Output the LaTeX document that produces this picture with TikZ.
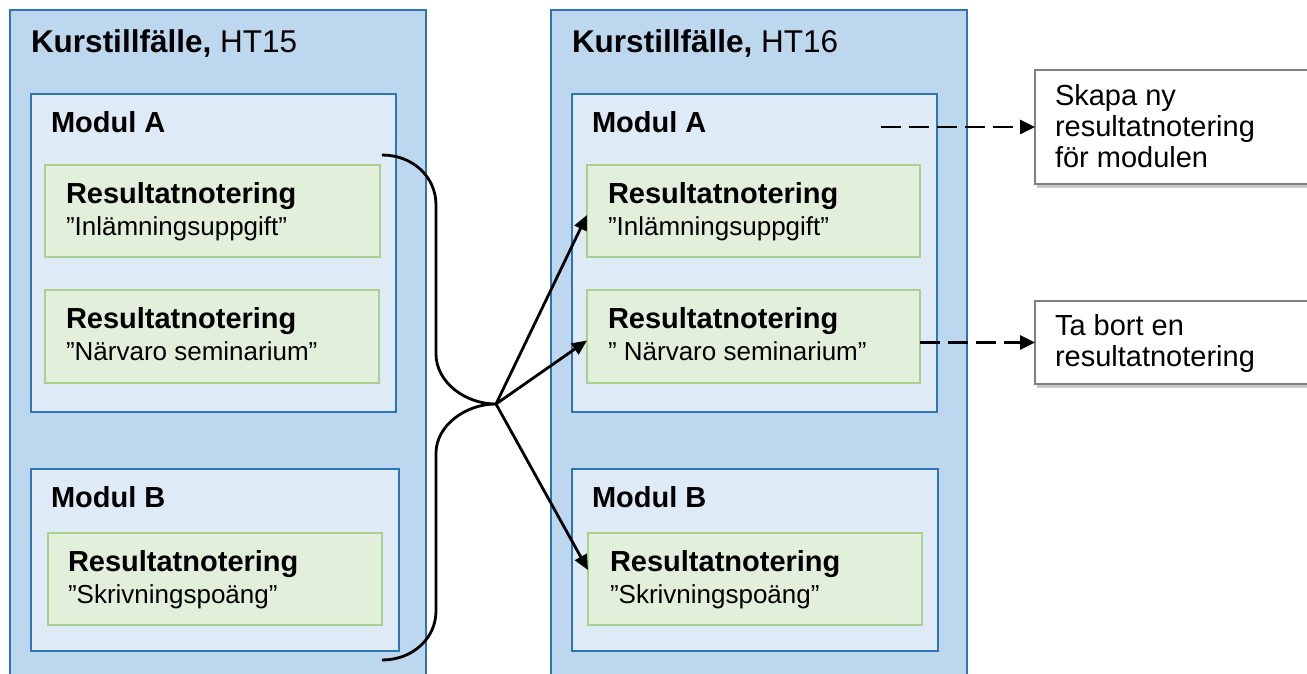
\documentclass[tikz,border=0pt]{standalone}
\usepackage{fontspec}
\setmainfont{Liberation Sans}
\usetikzlibrary{arrows.meta,shadows,calc}
\definecolor{outerfill}{HTML}{BDD7EE}
\definecolor{bluedge}{HTML}{2E75B6}
\definecolor{modfill}{HTML}{DEEBF7}
\definecolor{greenfill}{HTML}{E2EFDA}
\definecolor{greenedge}{HTML}{A9D18E}
\definecolor{noteedge}{HTML}{808080}
\newcommand{\ftitle}{\fontsize{31.5}{34}\selectfont}
\newcommand{\fhead}{\fontsize{29}{32}\selectfont}
\newcommand{\fsub}{\fontsize{26}{30}\selectfont}
\newcommand{\fnote}{\fontsize{29}{31}\selectfont}
\tikzset{
  boxbase/.style={rectangle, anchor=north west, inner sep=0pt, outer sep=0pt},
  outerbox/.style={boxbase, fill=outerfill, draw=bluedge, line width=2pt},
  modbox/.style={boxbase, fill=modfill, draw=bluedge, line width=2pt},
  resbox/.style={boxbase, fill=greenfill, draw=greenedge, line width=2pt},
  notebox/.style={boxbase, fill=white, draw=noteedge, line width=1.5pt,
    drop shadow={shadow xshift=2pt, shadow yshift=-4pt, fill=black, opacity=0.22}},
  txt/.style={anchor=base west, inner sep=0pt, outer sep=0pt},
  conn/.style={draw=black, line width=2.8pt},
  arr/.style={conn, -{Triangle[length=15pt, width=13pt]}},
  dasharr/.style={draw=black, line width=2.8pt, dash pattern=on 20pt off 8pt,
    -{Triangle[length=15pt, width=14pt]}}
}
\begin{document}
\begin{tikzpicture}[x=1pt, y=-1pt]
\useasboundingbox (0,0) rectangle (1307,673);
\clip (0,0) rectangle (1307,673);
% outer course boxes
\node[outerbox, minimum width=416pt, minimum height=700pt] (k1) at (10,10) {};
\node[outerbox, minimum width=416pt, minimum height=700pt] (k2) at (551,10) {};
% modules
\node[modbox, minimum width=365pt, minimum height=318pt] (ma1) at (31,94) {};
\node[modbox, minimum width=368pt, minimum height=182pt] (mb1) at (31,469) {};
\node[modbox, minimum width=365pt, minimum height=318pt] (ma2) at (572,94) {};
\node[modbox, minimum width=366pt, minimum height=182pt] (mb2) at (572,469) {};
% result boxes
\node[resbox, minimum width=335pt, minimum height=92pt] (r1a) at (45,165) {};
\node[resbox, minimum width=334pt, minimum height=93pt] (r1b) at (45,290) {};
\node[resbox, minimum width=334pt, minimum height=92pt] (r1c) at (48,533) {};
\node[resbox, minimum width=333pt, minimum height=92pt] (r2a) at (587,165) {};
\node[resbox, minimum width=333pt, minimum height=93pt] (r2b) at (587,290) {};
\node[resbox, minimum width=334pt, minimum height=92pt] (r2c) at (588,533) {};
% texts
\node[txt] (tk1) at (31,52) {\ftitle\textbf{Kurstillfälle,} HT15};
\node[txt] (tk2) at (572,52) {\ftitle\textbf{Kurstillfälle,} HT16};
\node[txt] (tma1) at (51,132) {\fhead\textbf{Modul A}};
\node[txt] (tmb1) at (51,507) {\fhead\textbf{Modul B}};
\node[txt] (tma2) at (592,132) {\fhead\textbf{Modul A}};
\node[txt] (tmb2) at (592,507) {\fhead\textbf{Modul B}};
\node[txt] (h1a) at (66,203) {\fhead\textbf{Resultatnotering}};
\node[txt] (s1a) at (66,235) {\fsub ”Inlämningsuppgift”};
\node[txt] (h1b) at (66,328) {\fhead\textbf{Resultatnotering}};
\node[txt] (s1b) at (66,360) {\fsub ”Närvaro seminarium”};
\node[txt] (h1c) at (68,571) {\fhead\textbf{Resultatnotering}};
\node[txt] (s1c) at (68,603) {\fsub ”Skrivningspoäng”};
\node[txt] (h2a) at (608,203) {\fhead\textbf{Resultatnotering}};
\node[txt] (s2a) at (608,235) {\fsub ”Inlämningsuppgift”};
\node[txt] (h2b) at (608,328) {\fhead\textbf{Resultatnotering}};
\node[txt] (s2b) at (608,360) {\fsub ” Närvaro seminarium”};
\node[txt] (h2c) at (610,571) {\fhead\textbf{Resultatnotering}};
\node[txt] (s2c) at (610,603) {\fsub ”Skrivningspoäng”};
% note boxes
\node[notebox, minimum width=320pt, minimum height=114pt] (n1) at (1035,70) {};
\node[notebox, minimum width=320pt, minimum height=83pt] (n2) at (1035,301) {};
\node[txt] (tn1) at (1055,105) {\fnote\parbox[t]{250pt}{Skapa ny\\resultatnotering\\för modulen}};
\node[txt] (tn2) at (1055,335) {\fnote\parbox[t]{250pt}{Ta bort en\\resultatnotering}};
% connectors
\coordinate (bt) at (382,155);
\coordinate (tip) at (496,404);
\coordinate (bb) at (382,660);
\draw[conn] (bt) .. controls (413,155) and (436,177) .. (436,205) -- (436,354)
  .. controls (436,382) and (465,404) .. (tip)
  .. controls (465,404) and (436,426) .. (436,453) -- (436,611)
  .. controls (436,638) and (413,660) .. (bb);
\draw[arr] (tip) -- ($(r2a.west)+(0,4)$);
\draw[arr] (tip) -- ($(r2b.west)+(0,4)$);
\draw[arr] (tip) -- ($(r2c.west)+(0,-9)$);
\coordinate (ds) at (881,127);
\draw[dasharr] (ds) -- (n1.west);
\draw[dasharr] (r2b.east |- n2.west) -- (n2.west);
\end{tikzpicture}
\end{document}
